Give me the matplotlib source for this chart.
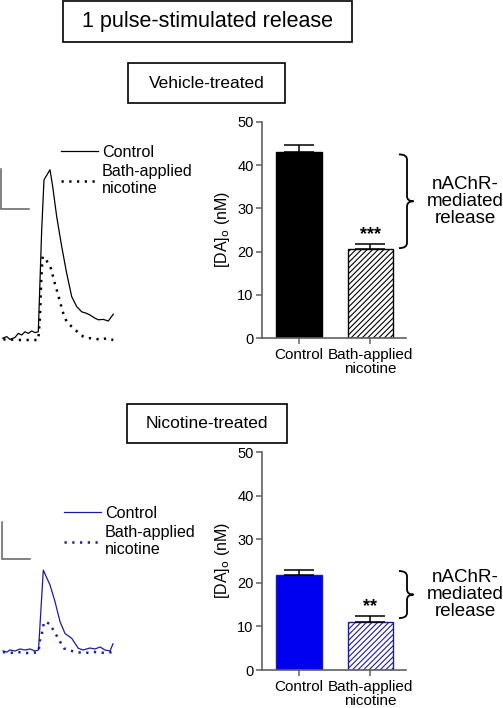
import numpy as np
import matplotlib
matplotlib.use("Agg")
import matplotlib.pyplot as plt
from matplotlib.patches import Rectangle, PathPatch
from matplotlib.path import Path
from matplotlib.transforms import blended_transform_factory

plt.rcParams['font.family'] = ['Liberation Sans', 'DejaVu Sans']
plt.rcParams['hatch.linewidth'] = 0.8

W, H = 503, 708

# Bar data, [DA]o (nM)
groups = ['Control', 'Bath-applied\nnicotine']
veh_mean = [43.0, 20.6]
veh_sem = [1.6, 1.2]
nic_mean = [21.7, 11.1]
nic_sem = [1.2, 1.2]
veh_stars = '***'
nic_stars = '**'

# brace spans (nM) for the nAChR-mediated part
veh_brace = [42.5, 20.8]
nic_brace = [22.7, 11.9]

# Example traces (time in samples, [DA]o in nM)
veh_t_ctl = [2.7, 6.7, 10, 15, 18.3, 21.7, 25, 28.3, 31.7, 35, 38.3, 41.7, 44, 50, 52.7,
             56.7, 61.7, 66.7, 71.7, 76.7, 81.7, 86.7, 90, 95, 98.3, 103.3, 108.3, 113.3]
veh_da_ctl = [0.2, 0.6, -0.1, 0.4, 1.4, 1.0, 1.8, 1.4, 2.0, 1.6, 1.8, 27.3, 39.8, 42.3, 38.1,
              30.6, 23.1, 16.4, 10.6, 8.1, 6.8, 6.4, 6.0, 5.2, 4.8, 4.9, 4.5, 6.2]
veh_t_nic = [3.3, 10, 16.7, 25, 31.7, 38.3, 40, 41, 41.7, 42.7, 45, 48.3, 51.7, 53.3, 56.7,
             60, 63.3, 66.7, 71.7, 78.3, 83.3, 88.3, 95, 100, 106.7, 113.3]
veh_da_nic = [-0.1, -0.1, -0.25, -0.25, -0.25, -0.25, 5.6, 13.1, 17.3, 20.6, 20.2, 18.9, 17.3,
              15.2, 12.3, 9.3, 6.4, 4.3, 3.1, 1.6, 0.6, 0.2, 0.2, -0.25, 0.2, -0.25]

nic_t_ctl = [3, 7, 10, 15, 20, 25, 30, 35, 38.5, 43.3, 50, 55, 60, 65, 71.7, 78.3, 83,
             90, 95, 100, 105, 110, 113]
nic_da_ctl = [0.27, 0, 0.54, 0.27, 0.81, 0.54, 0.81, 0.27, 0.54, 22.1, 18.1, 13.6, 8.2, 5.0,
              3.7, 1.0, 0.54, 1.08, 0.81, 1.35, 0.54, 0.27, 2.2]
nic_t_nic = [3, 10, 18, 25, 32, 38.5, 40, 41.7, 42.7, 44.3, 50, 53.3, 57.3, 60.7, 64, 75, 85,
             95, 105, 113]
nic_da_nic = [0, -0.27, 0, -0.27, -0.27, 0, 3.2, 4.6, 6.4, 8.2, 7.6, 5.9, 4.1, 2.5, 0.97, 0,
              -0.27, 0, -0.27, 0]

scale_nM = 10
scale_t = 28

BLUE = '#0000f0'
NAVY = '#1c1ca0'
GREY = '#606060'


def fig_rect(x0, y0, x1, y1):
    # pixel box (top-left origin) -> figure fraction
    return [x0 / W, 1 - y1 / H, (x1 - x0) / W, (y1 - y0) / H]


fig = plt.figure(figsize=(W / 100, H / 100), dpi=100)


def title_box(x0, y0, x1, y1, text, size):
    fig.patches.append(Rectangle((x0 / W, 1 - y1 / H), (x1 - x0) / W, (y1 - y0) / H,
                                 transform=fig.transFigure, fill=False, lw=1.2, ec='black'))
    fig.text((x0 + x1) / 2 / W, 1 - (y0 + y1) / 2 / H, text, ha='center', va='center',
             fontsize=size)


title_box(63, 1, 352, 42, '1 pulse-stimulated release', 15.5)
title_box(128, 63, 285, 103, 'Vehicle-treated', 12.5)
title_box(127, 404, 287, 443, 'Nicotine-treated', 12.5)


def trace_panel(rect, ylim, t1, y1, t2, y2, color, sb, leg_xy):
    ax = fig.add_axes(rect)
    ax.set_xlim(0, 130)
    ax.set_ylim(*ylim)
    ax.axis('off')
    ax.plot(t1, y1, color=color, lw=0.9, label='Control')
    ax.plot(t2, y2, color=color, lw=1.8, dashes=(0.9, 2.2),
            label='Bath-applied\nnicotine')
    x0, y0 = sb
    ax.plot([x0, x0, x0 + scale_t], [y0 + scale_nM, y0, y0], color=GREY, lw=1.1,
            clip_on=False, solid_joinstyle='miter')
    ax.legend(loc='upper left', bbox_to_anchor=(leg_xy[0] / W, 1 - leg_xy[1] / H),
              bbox_transform=fig.transFigure, frameon=False, fontsize=11.6,
              handlelength=2.3, handletextpad=0.25, borderpad=0, borderaxespad=0,
              labelspacing=0.25)
    return ax


trace_panel(fig_rect(0, 150, 130, 345), (-1.5, 47.25), veh_t_ctl, veh_da_ctl,
            veh_t_nic, veh_da_nic, 'black', (1, 32.5), (61, 145))
trace_panel(fig_rect(0, 505, 130, 660), (-2.16, 39.7), nic_t_ctl, nic_da_ctl,
            nic_t_nic, nic_da_nic, NAVY, (2, 25.1), (64, 506))


def brace(ax, top, bot):
    tr = blended_transform_factory(ax.transAxes, ax.transData)
    xa, xv, xt = 0.951, 1.007, 1.052
    mid = (top + bot) / 2
    r = 1.2
    verts = [(xa, top), (xv, top), (xv, top - r), (xv, mid + r), (xv, mid), (xt, mid),
             (xv, mid), (xv, mid - r), (xv, bot + r), (xv, bot), (xa, bot)]
    codes = [Path.MOVETO, Path.CURVE3, Path.CURVE3, Path.LINETO, Path.CURVE3, Path.CURVE3,
             Path.CURVE3, Path.CURVE3, Path.LINETO, Path.CURVE3, Path.CURVE3]
    ax.add_patch(PathPatch(Path(verts, codes), transform=tr, fill=False, lw=1.3,
                           ec='black', clip_on=False))
    ax.text(1.41, mid, 'nAChR-\nmediated\nrelease', transform=tr, ha='center',
            va='center', fontsize=13.5, linespacing=1.0)


def bar_panel(rect, means, sems, fc, hatch_c, ec, stars, br):
    ax = fig.add_axes(rect)
    x = np.arange(len(means))
    ax.bar(x[0], means[0], width=0.64, color=fc, edgecolor=ec, lw=1)
    ax.bar(x[1], means[1], width=0.64, color='white', edgecolor=hatch_c, hatch='//////',
           lw=1)
    ax.errorbar(x, means, yerr=[[0, 0], sems], fmt='none', ecolor='black', elinewidth=1.1,
                capsize=10.5, capthick=1.1)
    ax.text(x[1], means[1] + sems[1] + 0.2, stars, ha='center', va='bottom', fontsize=13,
            fontweight='bold')
    ax.set_xlim(-0.52, 1.5)
    ax.set_ylim(0, 50)
    ax.set_yticks([0, 10, 20, 30, 40, 50])
    ax.set_xticks(x)
    ax.set_xticklabels(groups, fontsize=11, linespacing=1.0)
    ax.tick_params(axis='y', labelsize=10.5, length=4, width=1.1, color=GREY, pad=2)
    ax.tick_params(axis='x', length=4, width=1.1, color=GREY, pad=3)
    for s in ['top', 'right']:
        ax.spines[s].set_visible(False)
    for s in ['left', 'bottom']:
        ax.spines[s].set_color(GREY)
        ax.spines[s].set_linewidth(1.2)
    ax.set_ylabel('[DA]$_{\\mathrm{o}}$ (nM)', fontsize=11.5, labelpad=4)
    brace(ax, *br)
    return ax


bar_panel(fig_rect(262, 122, 406, 338), veh_mean, veh_sem, 'black', 'black', 'black',
          veh_stars, veh_brace)
bar_panel(fig_rect(262, 452, 406, 670), nic_mean, nic_sem, BLUE, NAVY, NAVY,
          nic_stars, nic_brace)

fig.savefig('out.png', dpi=100)
